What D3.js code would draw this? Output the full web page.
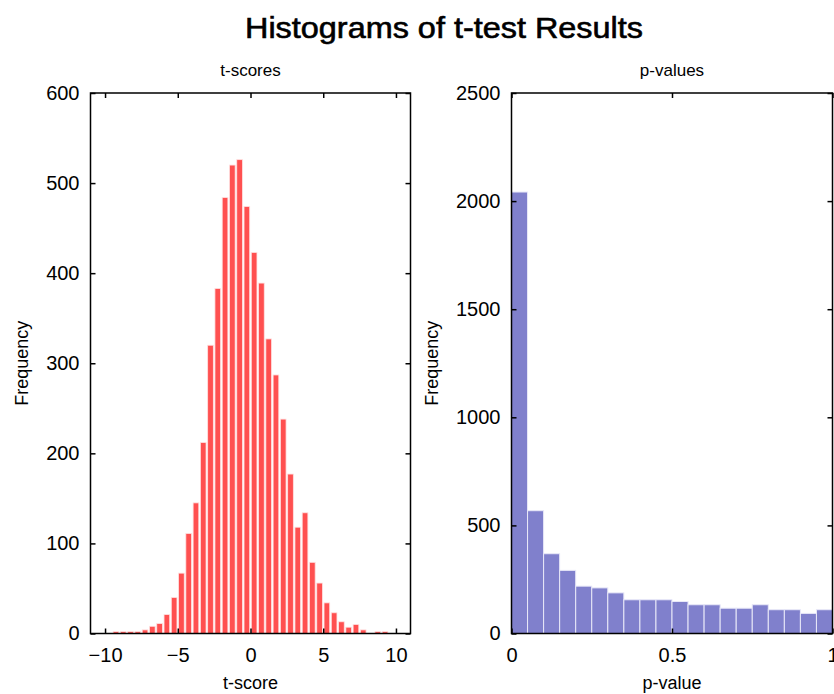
<!DOCTYPE html>
<html>
<head>
<meta charset="utf-8">
<script src="https://cdn.jsdelivr.net/npm/d3@7"></script>
<style>
  html, body { margin: 0; padding: 0; background: #fff; }
  svg { display: block; }
  text { font-family: "Liberation Sans", Arial, sans-serif; fill: #000; }
</style>
</head>
<body>
<svg id="chart" width="834" height="694"></svg>
<script>
// ---- Data ----
const chartTitle = "Histograms of t-test Results";

// t-score histogram: bin centers (width 0.5) and counts
const tBinCenters = [-9.25,-8.75,-8.25,-7.75,-7.25,-6.75,-6.25,-5.75,-5.25,-4.75,
  -4.25,-3.75,-3.25,-2.75,-2.25,-1.75,-1.25,-0.75,-0.25,0.25,
  0.75,1.25,1.75,2.25,2.75,3.25,3.75,4.25,4.75,5.25,
  5.75,6.25,6.75,7.25,7.75,8.25,8.75,9.25];
const tCounts = [2,2,2,2,4,8,11,21,40,67,
  111,145,212,320,383,484,520,526,474,423,
  389,327,287,238,177,118,134,79,56,34,
  23,13,7,10,4,0,2,2];
const tTicks = [-10,-5,0,5,10];
const tYTicks = [0,100,200,300,400,500,600];

// p-value histogram: bin left edges (width 0.05) and counts
const pBinEdges = [0,0.05,0.1,0.15,0.2,0.25,0.3,0.35,0.4,0.45,
  0.5,0.55,0.6,0.65,0.7,0.75,0.8,0.85,0.9,0.95];
const pCounts = [2042,568,369,292,219,211,188,156,156,156,
  148,133,133,117,117,133,110,110,93,110];
const pTicks = [0,0.5,1];
const pTickLabels = ["0","0.5","1"];
const pYTicks = [0,500,1000,1500,2000,2500];

// ---- Layout ----
const svg = d3.select("#chart");
const tickFont = 20;

svg.append("text")
  .attr("x", 444).attr("y", 38)
  .attr("text-anchor", "middle")
  .attr("textLength", 398)
  .attr("lengthAdjust", "spacingAndGlyphs")
  .style("font-size", "29px")
  .style("stroke", "#000").style("stroke-width", 0.6)
  .text(chartTitle);

function drawPanel(opts) {
  const { x0, x1, y0, y1, xDomain, yDomain, xTicks, xFmt, yTicks, subtitle, xlabel } = opts;
  const x = d3.scaleLinear().domain(xDomain).range([x0, x1]);
  const y = d3.scaleLinear().domain(yDomain).range([y1, y0]);
  const g = svg.append("g");

  // bars
  opts.drawBars(g, x, y);

  // box
  g.append("rect")
    .attr("x", x0).attr("y", y0)
    .attr("width", x1 - x0).attr("height", y1 - y0)
    .attr("fill", "none").attr("stroke", "#000").attr("stroke-width", 1.5);

  const tickLen = 5;
  // bottom axis (ticks inside)
  const bottom = g.append("g").attr("transform", `translate(0,${y1})`)
    .call(d3.axisBottom(x).tickValues(xTicks).tickFormat(xFmt).tickSizeInner(-tickLen).tickSizeOuter(0).tickPadding(14));
  bottom.select(".domain").remove();
  bottom.selectAll("text").style("font-size", tickFont + "px");
  // top axis ticks
  const top = g.append("g").attr("transform", `translate(0,${y0})`)
    .call(d3.axisTop(x).tickValues(xTicks).tickFormat("").tickSizeInner(-tickLen).tickSizeOuter(0));
  top.select(".domain").remove();
  // left axis
  const left = g.append("g").attr("transform", `translate(${x0},0)`)
    .call(d3.axisLeft(y).tickValues(yTicks).tickFormat(d3.format("d")).tickSizeInner(-tickLen).tickSizeOuter(0).tickPadding(11));
  left.select(".domain").remove();
  left.selectAll("text").style("font-size", tickFont + "px");
  // right axis ticks
  const right = g.append("g").attr("transform", `translate(${x1},0)`)
    .call(d3.axisRight(y).tickValues(yTicks).tickFormat("").tickSizeInner(-tickLen).tickSizeOuter(0));
  right.select(".domain").remove();
  g.selectAll(".tick line").attr("stroke", "#000").attr("stroke-width", 1.5);

  // subtitle
  g.append("text")
    .attr("x", (x0 + x1) / 2).attr("y", 76)
    .attr("text-anchor", "middle")
    .style("font-size", "17px")
    .text(subtitle);
  // x label
  g.append("text")
    .attr("x", (x0 + x1) / 2).attr("y", 689)
    .attr("text-anchor", "middle")
    .style("font-size", "18px")
    .text(xlabel);
  // y label
  g.append("text")
    .attr("transform", `translate(${opts.ylabelX},${(y0 + y1) / 2}) rotate(-90)`)
    .attr("text-anchor", "middle")
    .style("font-size", "18px")
    .text("Frequency");
}

drawPanel({
  x0: 90.5, x1: 410.5, y0: 93, y1: 633.5,
  xDomain: [-11, 11], yDomain: [0, 600],
  xTicks: tTicks, xFmt: d3.format("d"), yTicks: tYTicks,
  subtitle: "t-scores", xlabel: "t-score", ylabelX: 28,
  drawBars: (g, x, y) => {
    const binW = 0.5, frac = 0.78;
    g.selectAll("rect.tbar").data(tBinCenters.map((c, i) => ({ c, v: tCounts[i] })).filter(d => d.v > 0))
      .enter().append("rect").attr("class", "tbar")
      .attr("x", d => x(d.c - binW * frac / 2))
      .attr("width", d => x(d.c + binW * frac / 2) - x(d.c - binW * frac / 2))
      .attr("y", d => y(d.v))
      .attr("height", d => y(0) - y(d.v))
      .attr("fill", "#ff5050")
      .attr("stroke", "#ffe0e0").attr("stroke-width", 0.8);
  }
});

drawPanel({
  x0: 511.5, x1: 832.5, y0: 93, y1: 633.5,
  xDomain: [0, 1], yDomain: [0, 2500],
  xTicks: pTicks, xFmt: (d, i) => pTickLabels[i], yTicks: pYTicks,
  subtitle: "p-values", xlabel: "p-value", ylabelX: 438,
  drawBars: (g, x, y) => {
    const binW = 0.05;
    g.selectAll("rect.pbar").data(pBinEdges.map((e, i) => ({ e, v: pCounts[i] })))
      .enter().append("rect").attr("class", "pbar")
      .attr("x", d => x(d.e))
      .attr("width", d => x(d.e + binW) - x(d.e))
      .attr("y", d => y(d.v))
      .attr("height", d => y(0) - y(d.v))
      .attr("fill", "#8080cc")
      .attr("stroke", "#e8e8f8").attr("stroke-width", 1);
  }
});
</script>
</body>
</html>
